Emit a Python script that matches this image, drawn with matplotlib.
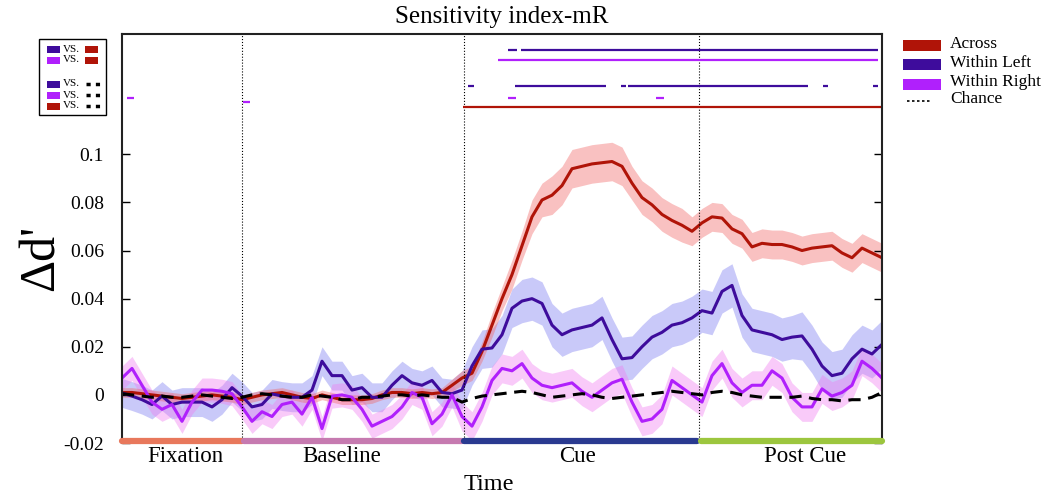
import numpy as np
import matplotlib
matplotlib.use("Agg")
import matplotlib.pyplot as plt
from matplotlib.patches import Rectangle

plt.rcParams['font.family'] = ['Liberation Serif', 'DejaVu Serif']

########################
### DATA (read off) ###
########################
# sample grid: 77 points spanning the trial (arbitrary time units)
time = np.arange(0, 381, 5)

across = [0.001, 0.001, 0.0005, 0.0, -0.0005, -0.001, -0.0015, -0.001, -0.0005, 0.0,
          -0.0005, -0.001, -0.002, -0.001, 0.0, 0.0005, 0.001, 0.0, -0.001, -0.0015,
          0.0, -0.001, -0.002, -0.002, -0.002, -0.0015, 0.0, 0.001, 0.001, 0.0005,
          0.001, 0.0005, 0.001, 0.004, 0.007, 0.009, 0.018, 0.029, 0.040, 0.050,
          0.062, 0.074, 0.081, 0.083, 0.087, 0.094, 0.095, 0.096, 0.0965, 0.097,
          0.095, 0.088, 0.082, 0.079, 0.075, 0.0725, 0.0705, 0.068, 0.0715, 0.074,
          0.0735, 0.069, 0.067, 0.0615, 0.063, 0.0625, 0.0625, 0.0615, 0.060, 0.061,
          0.0615, 0.062, 0.059, 0.057, 0.061, 0.059, 0.057]
within_left = [0.0008, -0.0005, -0.002, -0.004, -0.0005, -0.004, -0.003, -0.003, -0.003, -0.005,
               -0.002, 0.003, -0.0005, -0.005, -0.004, 0.0004, -0.0005, -0.001, -0.001, 0.002,
               0.014, 0.008, 0.008, 0.002, 0.003, -0.001, -0.001, 0.004, 0.008, 0.005,
               0.004, 0.006, 0.001, 0.0005, 0.002, 0.012, 0.019, 0.0195, 0.025, 0.036,
               0.039, 0.040, 0.038, 0.029, 0.025, 0.027, 0.028, 0.029, 0.032, 0.023,
               0.015, 0.0155, 0.020, 0.024, 0.026, 0.029, 0.030, 0.032, 0.035, 0.034,
               0.043, 0.0455, 0.033, 0.027, 0.026, 0.025, 0.023, 0.024, 0.0245, 0.019,
               0.012, 0.008, 0.009, 0.015, 0.019, 0.017, 0.021]
within_right = [0.007, 0.011, 0.004, -0.003, -0.006, -0.004, -0.011, -0.003, 0.002, 0.002,
                0.0015, 0.0005, -0.005, -0.011, -0.007, -0.009, -0.004, -0.003, -0.008, -0.001,
                -0.014, -0.0005, 0.0, -0.001, -0.006, -0.013, -0.011, -0.009, -0.005, 0.001,
                -0.001, -0.012, -0.008, 0.0, -0.009, -0.013, -0.005, 0.006, 0.011, 0.010,
                0.013, 0.007, 0.004, 0.003, 0.004, 0.005, 0.0015, -0.001, 0.002, 0.005,
                0.0065, -0.003, -0.011, -0.010, -0.006, 0.006, 0.003, 0.0, -0.003, 0.008,
                0.013, 0.005, 0.001, 0.004, 0.004, 0.010, 0.007, -0.001, -0.005, -0.005,
                0.0025, -0.0005, 0.001, 0.004, 0.014, 0.011, 0.007]
chance = [0.0005, 0.0, -0.0005, -0.001, -0.0005, -0.001, -0.001, -0.0005, 0.0, -0.0005,
          -0.001, -0.0015, -0.001, 0.0, 0.0005, 0.0, -0.0005, -0.001, -0.001, 0.0,
          -0.0005, -0.001, -0.002, -0.002, -0.001, -0.001, -0.0005, 0.0, 0.0, -0.0005,
          0.0, -0.0005, -0.001, -0.001, -0.003, -0.0015, -0.0005, 0.0, 0.0005, 0.001,
          0.0015, 0.001, 0.0, -0.001, -0.0005, 0.0, 0.0005, 0.0, -0.001, -0.0015,
          -0.001, -0.0005, 0.0, 0.0005, 0.001, 0.0015, 0.001, 0.0005, 0.0, 0.001,
          0.0015, 0.001, 0.0, -0.0005, -0.001, -0.001, -0.001, -0.001, -0.0005, -0.0015,
          -0.002, -0.002, -0.0025, -0.002, -0.002, -0.001, 0.001]

# half-widths of the shaded bands
across_err = [0.002] * 33 + [0.0025, 0.003, 0.003, 0.004, 0.005, 0.005, 0.006, 0.006, 0.007, 0.007] \
    + [0.008] * 8 + [0.007] * 6 + [0.006] * 20
left_err = [0.006] * 34 + [0.008] * 6 + [0.009] * 28 + [0.010] * 9
right_err = [0.005] * 34 + [0.006] * 43

# significance rows (level, colour key, [(start, end), ...])
sig_rows = [
    (0.1433, 'left', [(193, 197.5), (199.5, 378)]),
    (0.1392, 'right', [(188, 378)]),
    (0.1283, 'left', [(173, 176), (196.5, 242), (249.5, 252), (253, 343), (350.5, 353), (375.5, 378)]),
    (0.1233, 'right', [(2.5, 6), (193, 197), (267, 271)]),
    (0.1217, 'right', [(60.5, 64)]),
    (0.1196, 'across', [(170.5, 380)]),
]

epoch_names = ['Fixation', 'Baseline', 'Cue', 'Post Cue']
epoch_start = [0, 61, 171, 289.5]
epoch_end = [60, 170, 287.5, 380]
epoch_label_x = [31.5, 110, 227.5, 341.5]
epoch_colors = ['#e8785c', '#c67ab0', '#2a3a90', '#9cc63e']
boundaries = [60, 171, 288.5]

colors = {'across': '#b01408', 'left': '#3e0c9c', 'right': '#b020fc'}
band_colors = {'across': '#f26464', 'left': '#7a7af0', 'right': '#f07cf0'}

#################
### THE PLOT ###
#################
W, H = 1053, 497
fig = plt.figure(figsize=(W / 100, H / 100), dpi=100)
ax = fig.add_axes([122 / W, 1 - 443 / H, 760 / W, 409 / H])

series = [('left', within_left, left_err), ('right', within_right, right_err),
          ('across', across, across_err)]
for key, vals, err in series:
    v = np.array(vals)
    e = np.array(err)
    ax.fill_between(time, v - e, v + e, color=band_colors[key], alpha=0.4, lw=0)
for key, vals, err in [series[2], series[0], series[1]]:
    ax.plot(time, vals, color=colors[key], lw=2.2)
ax.plot(time, chance, color='black', lw=2.2, dashes=(4, 2.5))

for b in boundaries:
    ax.axvline(b, color='black', lw=0.8, ls=':')

for level, key, segs in sig_rows:
    for s, e in segs:
        ax.plot([s, e], [level, level], color=colors[key], lw=1.6, solid_capstyle='butt')

for name, s, e, lx, c in zip(epoch_names, epoch_start, epoch_end, epoch_label_x, epoch_colors):
    ax.plot([s, e], [-0.0193, -0.0193], color=c, lw=4.5, solid_capstyle='round', clip_on=False, zorder=5)
    ax.text(lx, -0.0258, name, ha='center', va='center', fontsize=16.5)

ax.text(183.5, -0.0372, 'Time', ha='center', va='center', fontsize=17.5)

ax.set_xlim(0, 380)
ax.set_ylim(-0.02, 0.15)
yt = [-0.02, 0, 0.02, 0.04, 0.06, 0.08, 0.1]
ax.set_yticks(yt)
ax.set_yticklabels(['-0.02', '0', '0.02', '0.04', '0.06', '0.08', '0.1'])
ax.tick_params(axis='y', direction='in', length=6, width=1, labelsize=14, pad=13, right=True)
ax.tick_params(axis='x', bottom=False, labelbottom=False)
ax.spines['bottom'].set_visible(False)
for sp in ['left', 'right', 'top']:
    ax.spines[sp].set_linewidth(1.5)
    ax.spines[sp].set_color('#222222')
ax.set_title('Sensitivity index-mR', fontsize=18, pad=8)

fig.text(41 / W, 1 - 258 / H, "\u0394d'", rotation=90, ha='center', va='center', fontsize=36)

# overlay in pixel units for the two legends
ov = fig.add_axes([0, 0, 1, 1], zorder=10)
ov.set_xlim(0, W)
ov.set_ylim(H, 0)
ov.axis('off')

# right legend
leg_labels = ['Across', 'Within Left', 'Within Right']
leg_keys = ['across', 'left', 'right']
leg_y = [45.5, 64.5, 84]
for lab, key, y in zip(leg_labels, leg_keys, leg_y):
    ov.add_patch(Rectangle((903, y - 5.5), 38, 11, color=colors[key], lw=0))
    ov.text(950, y - 1.5, lab, ha='left', va='center', fontsize=12.5)
ov.plot([907, 931], [101, 101], color='black', lw=1.2, dashes=(1.5, 1.5))
ov.text(950, 99, 'Chance', ha='left', va='center', fontsize=12.5)

# left legend box
ov.add_patch(Rectangle((39, 39), 67, 76, fill=False, ec='black', lw=1))
box_rows = [(49, 'left', 'across'), (60, 'right', 'across'),
            (84, 'left', 'chance'), (95, 'right', 'chance'), (106, 'across', 'chance')]
for y, k1, k2 in box_rows:
    ov.add_patch(Rectangle((47, y - 3.5), 13, 7.5, color=colors[k1], lw=0))
    ov.text(62.5, y, 'VS.', ha='left', va='center', fontsize=8)
    if k2 == 'chance':
        ov.plot([86, 103], [y, y], color='black', lw=2.5, dashes=(1.2, 1.5))
    else:
        ov.add_patch(Rectangle((85, y - 3.5), 13, 7.5, color=colors[k2], lw=0))

fig.savefig('out.png', dpi=100)
